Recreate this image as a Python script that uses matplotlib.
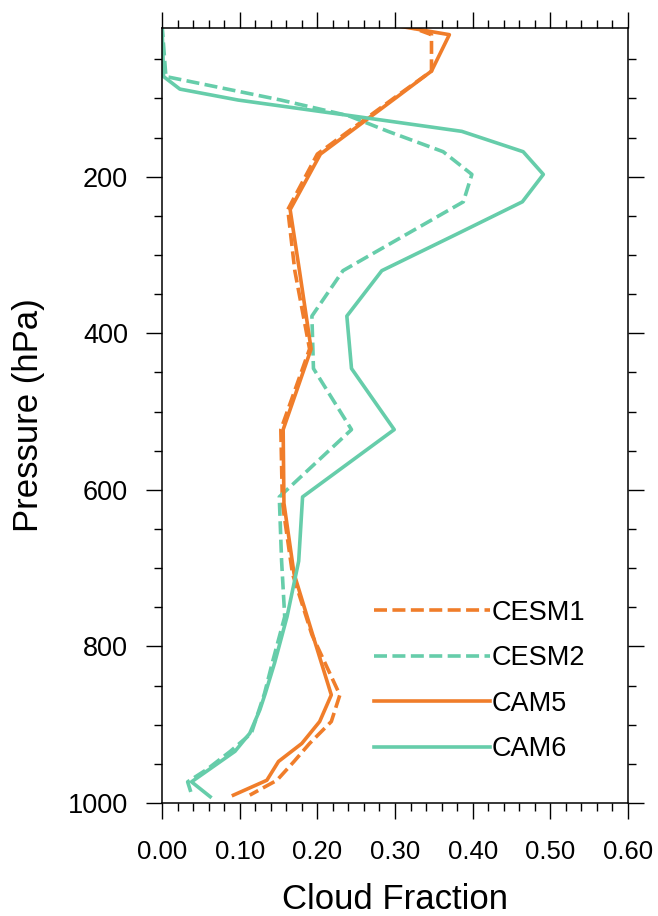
"""
Vertical profile of cloud fraction for CESM1/CESM2 and CAM5/CAM6.
"""

import matplotlib
matplotlib.use("Agg")
import matplotlib.pyplot as plt
from matplotlib.ticker import MultipleLocator, FormatStrFormatter

# pressure levels (hPa) of the CAM5 / CESM1 profiles
lev_cam5 = [5, 18.5, 65, 100, 171, 242, 320, 420, 523, 617, 707, 785,
            862, 896, 924, 947, 971, 990]
cf_cesm1 = [0.31, 0.347, 0.347, 0.298, 0.200, 0.162, 0.171, 0.190, 0.153,
            0.155, 0.168, 0.193, 0.229, 0.218, 0.190, 0.170, 0.148, 0.113]
cf_cam5 = [0.29, 0.370, 0.347, 0.300, 0.204, 0.165, 0.177, 0.192, 0.156,
           0.157, 0.170, 0.194, 0.218, 0.203, 0.180, 0.150, 0.135, 0.092]

# pressure levels (hPa) of the CAM6 / CESM2 profiles
lev_cam6 = [5, 72, 88, 102, 122, 142, 168, 197, 232, 274, 320, 378, 445,
            523, 609, 691, 762, 821, 860, 881, 911, 934, 957, 973, 992]
cf_cesm2 = [0.0, 0.005, 0.084, 0.153, 0.240, 0.291, 0.362, 0.399, 0.388,
            0.314, 0.233, 0.193, 0.195, 0.244, 0.151, 0.154, 0.158, 0.142,
            0.132, 0.125, 0.115, 0.088, 0.058, 0.033, 0.039]
cf_cam6 = [0.0, 0.002, 0.023, 0.098, 0.243, 0.386, 0.465, 0.491, 0.464,
           0.378, 0.283, 0.238, 0.244, 0.299, 0.181, 0.176, 0.161, 0.145,
           0.133, 0.126, 0.113, 0.094, 0.061, 0.038, 0.062]

ORANGE = "#F07D2A"
GREEN = "#66CDAA"
LW = 2.6
DASH = (3.6, 1.5)

plt.rcParams["font.family"] = ["Liberation Sans", "DejaVu Sans"]


def plot_profiles(save_name: str = "out.png"):
    """
    Draw the four cloud fraction profiles against pressure.
    """
    fig = plt.figure(figsize=(6.58, 9.16), dpi=100)
    ax = fig.add_axes([0.2462, 0.1234, 0.7082, 0.846])

    ax.plot(cf_cesm1, lev_cam5, color=ORANGE, lw=LW, dashes=DASH, label="CESM1")
    ax.plot(cf_cesm2, lev_cam6, color=GREEN, lw=LW, dashes=DASH, label="CESM2")
    ax.plot(cf_cam5, lev_cam5, color=ORANGE, lw=LW, label="CAM5")
    ax.plot(cf_cam6, lev_cam6, color=GREEN, lw=LW, label="CAM6")

    ax.set_xlim(0, 0.6)
    ax.set_ylim(1000, 10)

    ax.xaxis.set_major_locator(MultipleLocator(0.1))
    ax.xaxis.set_minor_locator(MultipleLocator(0.02))
    ax.xaxis.set_major_formatter(FormatStrFormatter("%.2f"))
    ax.yaxis.set_major_locator(MultipleLocator(200))
    ax.yaxis.set_minor_locator(MultipleLocator(50))

    ax.tick_params(which="both", direction="out", top=True, right=True,
                   width=1.0)
    ax.tick_params(which="major", length=11.5)
    ax.tick_params(which="minor", length=5.8)
    ax.tick_params(axis="x", which="major", labelsize=18.5, pad=15)
    ax.tick_params(axis="y", which="major", labelsize=19.5, pad=13)
    for s in ax.spines.values():
        s.set_linewidth(1.1)

    ax.set_xlabel("Cloud Fraction", fontsize=25, labelpad=14)
    ax.set_ylabel("Pressure (hPa)", fontsize=25, labelpad=16)

    ax.legend(loc="upper left", bbox_to_anchor=(0.455, 0.262), frameon=False,
              fontsize=19.5, handlelength=4.3, handletextpad=0.05,
              labelspacing=0.72, borderpad=0, borderaxespad=0)

    fig.savefig(save_name, dpi=100)


if __name__ == "__main__":
    plot_profiles()
